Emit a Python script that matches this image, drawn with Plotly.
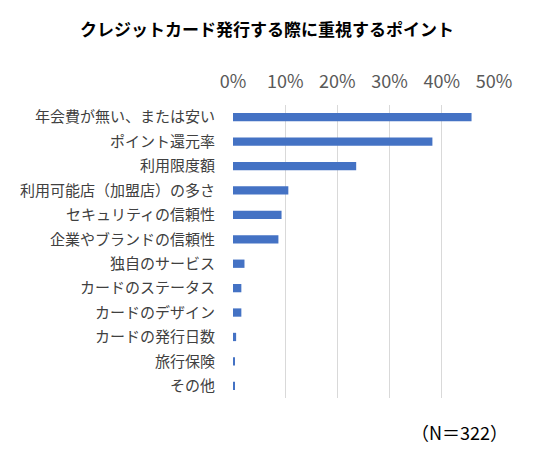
import plotly.graph_objects as go

categories = [
    "年会費が無い、または安い",
    "ポイント還元率",
    "利用限度額",
    "利用可能店（加盟店）の多さ",
    "セキュリティの信頼性",
    "企業やブランドの信頼性",
    "独自のサービス",
    "カードのステータス",
    "カードのデザイン",
    "カードの発行日数",
    "旅行保険",
    "その他",
]
percent = [45.7, 38.2, 23.6, 10.6, 9.3, 8.7, 2.2, 1.6, 1.6, 0.6, 0.3, 0.3]
tick_vals = [0, 10, 20, 30, 40, 50]

font_jp = "Noto Sans CJK JP"

fig = go.Figure(go.Bar(
    x=percent,
    y=categories,
    orientation="h",
    marker=dict(color="#4472c4", line=dict(width=0)),
))

# the page body keeps its 8px default margin, so the figure is 8px smaller
fig.update_layout(
    width=528, height=449,
    margin=dict(l=225, r=42, t=97, b=59),
    paper_bgcolor="white",
    plot_bgcolor="white",
    bargap=0.66,
    showlegend=False,
    font=dict(family=font_jp, color="#404040"),
    title=dict(
        text="<b>クレジットカード発行する際に重視するポイント</b>",
        x=0.4905, xanchor="center", y=0.951, yanchor="middle",
        font=dict(size=17, color="#000000", family=font_jp),
    ),
)

fig.update_xaxes(
    side="top",
    range=[0, 50],
    tickvals=tick_vals,
    ticktext=[f"{v}%" for v in tick_vals],
    tickfont=dict(size=18, color="#595959"),
    showgrid=True, gridcolor="#d9d9d9", gridwidth=1,
    zeroline=False, showline=False, ticks="",
    ticklabelstandoff=12,
    automargin=False,
)
fig.update_yaxes(
    autorange="reversed",
    tickfont=dict(size=15, color="#404040"),
    showgrid=False, zeroline=False, showline=False, ticks="",
    ticklabelstandoff=17,
    automargin=False,
)

fig.add_annotation(
    text="（N＝322）", xref="paper", yref="paper",
    x=1.06, y=-0.116, xanchor="right", yanchor="middle",
    showarrow=False, font=dict(size=18, color="#000000", family=font_jp),
)

fig.write_html("out.html")
